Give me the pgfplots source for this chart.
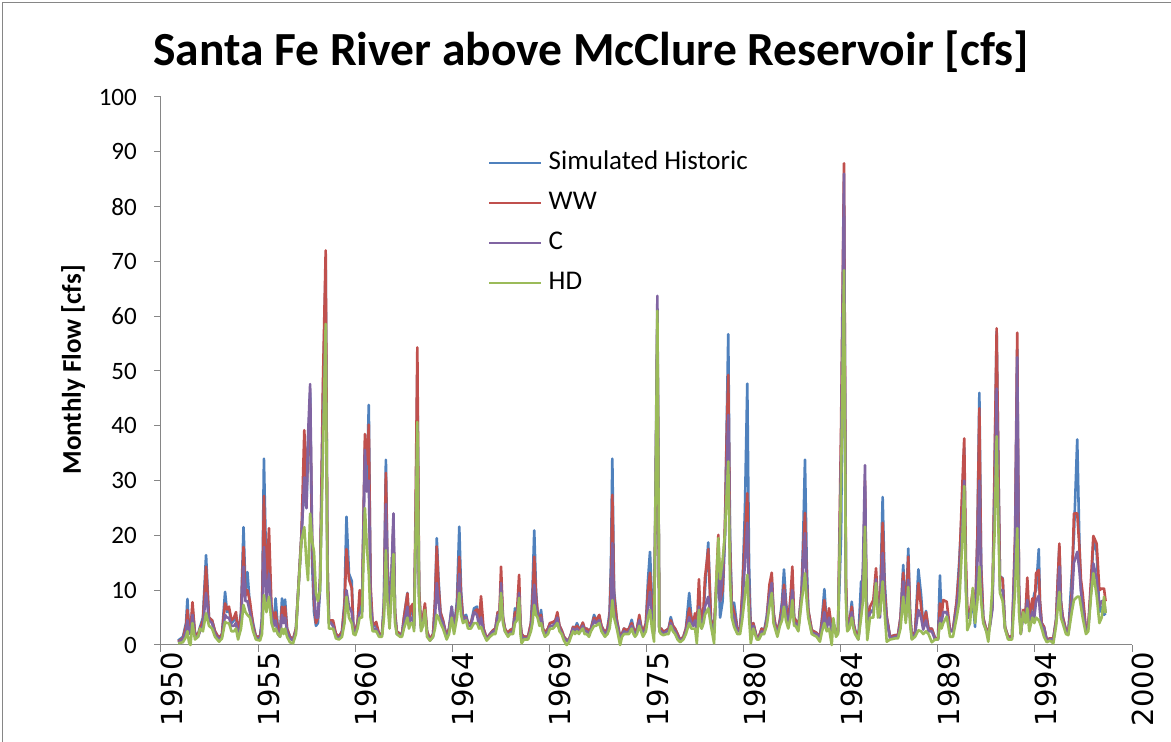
\documentclass[border=0pt]{standalone}
\usepackage{pgfplots}
\pgfplotsset{compat=1.18}
\usepackage{pgfplotstable}
\usepackage{fontspec}
\setmainfont{Carlito}
\newfontfamily\xfont{DejaVu Sans}
\definecolor{cSH}{HTML}{4F81BD}
\definecolor{cWW}{HTML}{C0504D}
\definecolor{cC}{HTML}{8064A2}
\definecolor{cHD}{HTML}{9BBB59}
\definecolor{axgray}{HTML}{868686}

\pgfplotstableread{
yr sh ww c hd
1950.88 0.8 0.6 0.5 0.3
1951.13 1.5 1.2 1.0 0.5
1951.29 4 3.5 2.5 1.5
1951.36 8.4 6.4 4.5 2.5
1951.44 3 3.5 2.5 0.5
1951.52 2 2.5 2 0
1951.62 7 7.8 5.5 4
1951.75 2 2 1.5 1
1951.91 2 2 1.5 1.5
1952.01 3.3 3 2.5 3
1952.16 5 4.5 3.5 2.5
1952.32 16.4 14.3 9.5 5.8
1952.47 5 5 4.5 3.5
1952.63 4.5 4.5 4 3
1952.78 2.5 2.5 2 1.5
1952.99 1.2 1.2 1 0.6
1953.14 2 2 1.5 1.2
1953.30 9.7 7.6 5.5 4.2
1953.40 6 6.5 5 4
1953.50 6.5 7 5 4
1953.63 4 4.5 3.5 2.5
1953.76 4.5 5 3.5 2.5
1953.86 5.5 6 4 3
1953.97 2 2 1.5 1
1954.12 6 5.5 4 3
1954.25 21.5 17.9 14.3 7.3
1954.35 10 9 8 6
1954.45 13.3 10 8 5.5
1954.58 7 8 6 5
1954.74 4 3.5 3 2.5
1954.89 1.5 1.5 1.2 1
1955.10 1.5 1.5 1.2 0.8
1955.20 5 4 3.5 2
1955.30 34 27.2 17.9 9.1
1955.43 12 10 8 6
1955.56 14 21.3 13 8.8
1955.69 6 7 5.5 4
1955.82 4 4.5 3.5 2.5
1955.90 8.5 6 4.5 3
1956.02 3 3 2 2
1956.13 2 2 1.5 1.5
1956.23 8.5 7 5.5 3
1956.31 5 4.5 4 2
1956.39 8.3 7 5 3
1956.49 3 3 2.5 1.5
1956.64 1.5 1.5 1.2 0.5
1956.80 1 1 0.8 0.3
1956.95 3 3 2.5 2
1957.05 9 9 8.7 8.7
1957.23 20 20 19 19
1957.38 30 39.2 30.6 21.5
1957.49 25 28 25 15
1957.57 35 36 38 11.8
1957.68 46 44 47.6 24
1957.78 15 18 20 19
1957.88 6 8 10 17
1957.98 3.5 4 5 9.5
1958.08 4 5 5 8
1958.19 10 12 12 10
1958.34 45 48 40 35
1958.48 69 72 58 58.6
1958.57 15 15 12 10
1958.65 4 4.5 4 3
1958.75 4.5 4.5 4 3
1958.86 3.5 4.5 3.5 3
1959.01 2 2 1.5 1.2
1959.17 1.5 1.5 1.2 1
1959.32 2.5 2.5 2 1.5
1959.45 8 7 5 4
1959.55 23.4 17.5 10 8.8
1959.68 13 12 7 5
1959.82 11.7 10.4 6 4
1959.91 3 3 2.5 2
1960.01 2.7 2.7 2.2 1.8
1960.12 4 4 3.5 3
1960.23 8 10 6 5
1960.35 6 7 6 5
1960.50 36 38.5 35.6 25
1960.60 30 33 28 18
1960.70 43.8 40.2 30 13
1960.79 10 11 8 5
1960.90 3.5 3.5 3 2.5
1961.08 3.5 4.2 3 2.5
1961.23 2 2 1.8 1.5
1961.38 2 2 1.8 1.5
1961.48 8 7 6 5
1961.58 33.8 31.4 25.7 17.3
1961.66 15 14 12 8
1961.77 8 7 7 3
1961.87 12 12 13 9
1961.97 22 22 24 16.6
1962.05 6 6 5 4
1962.14 2.5 2.5 2 2
1962.31 2 2 1.8 1.5
1962.41 2 2 1.8 1.5
1962.51 5 5 4 3
1962.69 9.5 9.4 7 5
1962.77 4 4.5 3.5 3
1962.87 6 7 5 4
1962.97 7 7.5 5 4
1963.03 3.5 3.5 3 2.5
1963.11 20 25 20 19
1963.20 50 54.3 40 40.7
1963.29 10 10 8 8
1963.39 3.5 3.5 3 2.5
1963.49 5 5 4 3.5
1963.59 7 7.6 6 6.4
1963.70 2.5 2.5 2 1.5
1963.85 1 1 0.8 0.8
1964.01 2 2 1.5 1.5
1964.11 8 8 5 3
1964.20 19.5 18 11.3 5.5
1964.29 12 11 8 5
1964.39 6 6 5 4
1964.52 4.5 4.5 4 3
1964.71 1.5 1.5 1.2 1
1964.83 3 3 2.5 2
1964.97 7 6 7 5
1965.09 3 3 2.5 2
1965.24 8 7 6 5
1965.36 21.6 16.1 13 9.5
1965.45 10 9 7 5.5
1965.55 5 5 4.5 4
1965.71 5.5 5 5 4.5
1965.81 4 4 3.5 3
1965.96 4 4 3.5 3
1966.12 6.7 6 6 4
1966.27 7 6.5 5.5 4
1966.38 4 4.5 3.5 3
1966.48 6 8.9 5 3.3
1966.61 3 3 2.5 2
1966.77 1.2 1.2 1 0.8
1966.94 2 2 1.8 1.5
1967.10 2.7 2.7 2.5 2
1967.22 3 3 2.5 2
1967.34 6 6 5.5 4
1967.43 5 6 5 4.5
1967.51 11 14.3 11.3 9.5
1967.61 5 5 4.5 4
1967.71 3 3 2.5 2.5
1967.87 2 2 1.8 1.5
1967.97 2.7 2.7 2.2 2
1968.13 3 3 2.5 2
1968.23 6.7 6 5 4
1968.33 5 6 5 4.5
1968.44 10 12.8 9.5 8.6
1968.51 4 4 3 2
1968.57 2 2 1.5 0.3
1968.69 1.5 1.5 1.2 1
1968.90 1.5 1.5 1.2 1
1969.05 4 4 3 2.5
1969.13 10 8 6 4
1969.22 20.9 16.1 11 7.3
1969.31 10 9 7 5.5
1969.39 6 6 5.5 5
1969.49 4.5 4.5 4 3.5
1969.57 6.4 5.5 5 4
1969.67 3 3 2.5 2.5
1969.77 2.2 2.2 2 1.5
1969.93 3 3 2.5 2
1970.03 4 4 3.5 3
1970.19 4 4.2 3.5 3
1970.31 4.5 4.5 4 3.5
1970.41 5.5 6 5 4
1970.52 3.5 3.5 3 2.5
1970.63 2.7 2.7 2.2 2
1970.75 1.5 1.5 1.2 0.8
1970.89 0.9 0.9 0.8 0
1971.01 1 1 0.9 0.5
1971.11 2 2 1.8 1.5
1971.22 3.3 3.3 3 2.5
1971.32 3 3 2.5 2
1971.42 4 3.5 3 2.5
1971.52 3 3 2.5 2
1971.60 3 3 2.5 2.5
1971.72 4 4.1 3.5 3
1971.81 3 3 2.5 2
1971.92 3 3 2.5 2
1972.04 2.5 2.5 2 1.5
1972.14 3 3 2.7 2.5
1972.30 5.5 5 4.5 3.5
1972.40 4.5 4.5 4 3.5
1972.57 5 5.5 4.5 4
1972.68 3.5 3.5 3 2.5
1972.86 2.2 2.2 2 1.5
1972.99 3 3 2.5 2
1973.10 6 5 4 3
1973.17 15 12 8 5
1973.24 34 27.4 18.6 8.2
1973.33 10 9 6 5
1973.47 4.6 4.6 4 3
1973.64 1.5 1.5 1.2 0
1973.74 2 2 1.8 1.5
1973.84 3 3 2.5 2
1973.98 2.7 2.7 2.2 2
1974.10 3 3 2.5 2
1974.24 4.6 4 3.5 3
1974.33 3 3 2.5 2
1974.41 2.2 2.2 2 1.5
1974.51 3 3 2.5 2
1974.63 5 5.5 4.5 3.5
1974.72 3.5 3.5 3 2.5
1974.82 2.2 2.2 2 1.5
1974.97 4 4 3 2.5
1975.08 12 10 7 5
1975.18 17 13.2 9.7 6.4
1975.28 8 7 5 3
1975.39 2.5 2.5 2 0.6
1975.48 30 30 35 32
1975.56 58 58 63.7 61
1975.66 2.7 2.7 2.5 2.5
1975.75 3 3 2.5 2
1975.87 2.4 2.4 2 1.8
1976.04 2.7 2.7 2.5 2
1976.14 3 3 2.5 2
1976.25 5.1 4.5 4 3.5
1976.36 3.5 3.5 3 2.5
1976.47 3 3 2.5 2
1976.60 2 2 1.5 1
1976.73 0.9 0.9 0.8 0.5
1976.90 1.5 1.5 1.2 1
1977.03 3 3 2.5 2
1977.20 9.5 6.7 5.1 4
1977.31 5 5 4 3
1977.41 4 4 3.5 3
1977.50 5 5.8 4.5 3
1977.59 3 3 2.5 0.3
1977.70 8 12 7 6.4
1977.78 5 5.5 4 3.5
1977.84 3.3 3.3 3 3
1977.94 6 7 5 4
1978.01 10 12.2 7 5.5
1978.18 18.7 17.5 8.8 6.7
1978.32 4.6 4.6 4 3.5
1978.48 3 3 2.5 0.3
1978.60 10 12 10 12
1978.70 15 20.1 15 19.5
1978.79 5 8 8 12
1978.92 8 10 13 15.5
1979.04 20 22 20 20.4
1979.13 40 38 32 28
1979.21 56.7 49.3 42 33.5
1979.30 20 18 15 12
1979.39 7.6 7.6 6 5
1979.51 7.7 6 5 3.3
1979.68 3 3 2.5 2
1979.82 2.7 2.7 2.5 2
1979.93 9 9.5 7 4.6
1980.07 25 20 15 9
1980.19 47.7 27.7 22.3 12.8
1980.28 15 10 8 5
1980.37 2.7 2.7 2.2 0.3
1980.50 4 4 3.5 3
1980.68 1.3 1.3 1.2 1
1980.79 1.5 1.5 1.2 1
1980.93 3 3 2.5 2
1981.05 2.4 2.4 2 2
1981.19 5.2 4.5 4 3.5
1981.33 10 11 9 7
1981.45 12 13.2 11.3 9.5
1981.54 6 6 5 4
1981.62 4 4 3.5 3
1981.74 2.2 2.2 2 1.5
1981.87 4.6 4.6 4 3.5
1981.98 8 7 6 4.5
1982.08 13.8 11 10 7
1982.18 8 7 6 4.5
1982.30 4 4 3.5 3
1982.42 8 9 7 5
1982.51 12 14.3 10 8.2
1982.60 5 5 4 3.5
1982.67 4.6 4.6 4 3.5
1982.82 3.3 3.3 3 2.5
1982.99 10 10 9 8
1983.07 20 17 15 10
1983.16 33.8 24.1 20.4 13.1
1983.25 15 12 10 8
1983.33 6.4 6.4 5.5 5
1983.51 2.7 2.7 2.2 2
1983.76 2.2 2.2 2 1.5
1983.93 1.5 1.5 1.2 0.6
1984.04 5 4.5 3.5 2.5
1984.16 10.2 8.2 6 4
1984.28 3.5 3.5 3 2.5
1984.40 6 6.7 5 3
1984.54 3 3 2.5 0
1984.62 4 4 4 4.9
1984.76 2.2 2.2 2 1.5
1984.86 2.5 2.5 2.2 2
1985.02 20 40 35 30
1985.17 80 87.9 86 68.4
1985.27 10 12 10 8
1985.34 3.3 3.3 3 2.5
1985.45 4 4 3.5 3
1985.57 7.9 7 6 5
1985.66 4 4 3.5 3
1985.74 2.7 2.7 2.2 2
1985.91 1.2 1.2 1 1
1986.05 11.6 7 6 5
1986.15 8 9 15 8
1986.25 28 30 32.8 21.6
1986.32 10 10 10 5
1986.37 4 4 3.5 0.9
1986.51 6.4 7 6 5
1986.68 6 8.2 6 5
1986.82 12 14 12 11.3
1986.92 7 7 6 5
1987.02 6 6 5 5.8
1987.16 27 22.3 16.8 11.6
1987.26 12 10 8 6
1987.37 5.2 5.2 4.5 0.6
1987.54 1.5 1.5 1.2 1
1987.80 1.8 1.8 1.5 1.2
1987.95 1.8 1.8 1.5 1.2
1988.08 5 5 4 3
1988.22 14.6 13.2 11.6 8.8
1988.35 5.2 5.2 4.5 4
1988.48 17.6 16.1 11.9 10.6
1988.57 6 6 5 4
1988.66 1.5 1.5 1.2 1
1988.83 2.4 2.4 2 1.5
1989.00 13.8 11.3 6.4 2.7
1989.14 9.1 7 5 2.5
1989.25 3.3 3.3 2.8 2
1989.39 6.2 6 4.5 2.5
1989.52 3 3 2.5 2
1989.69 3 3 2.5 0.5
1989.86 1.2 1.2 1 1
1990.01 1.2 1.2 1 1
1990.11 12.7 7.6 5 4
1990.19 5 5 4 3
1990.28 6 8.2 6 4
1990.46 6 7.9 6 5.2
1990.63 2.7 2.7 2.5 1.5
1990.78 2.7 2.7 2.5 1.5
1990.97 7.9 7.9 6.5 5
1991.11 15.6 14 11 8
1991.25 25 28 22 18
1991.36 36 37.7 30 29
1991.45 10 15 12 10
1991.52 6 6.4 5 2.7
1991.66 5 6 5 4
1991.80 8 10 9 10.4
1991.92 3.3 5 5 4
1992.04 20 20 15 8
1992.14 46 43.2 30 14.3
1992.23 15 14 10 8
1992.34 5 5 4.5 4
1992.48 3 3 2.7 2.7
1992.60 2.2 2.2 2 0.6
1992.69 4 4 3.5 4
1992.81 7 7 6.5 10.6
1992.92 30 32 25 20
1993.03 57.2 57.8 46.8 38.1
1993.13 30 30 25 20
1993.20 12.5 12.5 10 9.5
1993.34 12.2 12 10 8
1993.46 3.3 3.3 3 3
1993.62 1.5 1.5 1.2 1
1993.82 1.5 1.5 1.2 1
1993.98 15 20 18 10
1994.09 54 57 52.5 21.3
1994.18 10 10 9 6
1994.27 2.2 2.2 2 2
1994.40 6 6.4 5.5 6
1994.52 6 6 5 4
1994.61 10 12.3 8.2 6.7
1994.71 5 5 4 2.5
1994.87 7 8.5 6 5
1994.97 9.4 6 5 4
1995.06 10 13.1 8 5
1995.20 17.5 13.7 9 4.5
1995.26 8 8 6 4
1995.35 4 4 3.5 3
1995.47 3.3 3.3 3 1.5
1995.61 0.9 0.9 0.8 0.5
1995.78 1.2 1.2 1 0.8
1995.95 1.2 1.2 1 0.3
1996.09 4.6 4.6 4 3.5
1996.18 12 12 9 7
1996.26 18 18.5 14.3 9.7
1996.34 8 8 7 5
1996.43 5.2 5.2 4.5 4
1996.60 2.7 2.7 2.5 2
1996.72 2.2 2.2 2 1.8
1996.90 12.8 9.7 8 6
1997.01 20 24 15 8.2
1997.18 37.5 24 17 8.8
1997.29 18.9 17.9 13.7 8.8
1997.37 10 12 10 7
1997.46 8 9.4 7 5
1997.63 2.7 2.7 2.5 2
1997.75 3.5 3.5 3 2.5
1997.89 10 12 10 9
1998.01 19 19.9 14.9 13.1
1998.18 17 18.5 12 9
1998.32 6 10 7 4
1998.44 7 10.3 8 5
1998.56 5.5 10.3 8 8.8
1998.64 5.8 8 6 5.8
}\flowdata

\begin{document}
\begin{tikzpicture}
\useasboundingbox (0,0) rectangle (1171pt,742pt);
\fill[white] (0,0) rectangle (1171pt,742pt);
\draw[axgray, line width=1.2pt] (2.5pt,0) -- (2.5pt,739.5pt) -- (1171pt,739.5pt);
\begin{axis}[
  at={(161pt,97pt)}, anchor=south west,
  scale only axis, width=971pt, height=548pt,
  xmin=1950, xmax=2000, ymin=0, ymax=100,
  clip=false,
  axis lines*=left,
  axis line style={axgray, line width=1pt, -},
  tick style={axgray, line width=1pt},
  tick align=outside,
  major tick length=7pt,
  xtick={1950,1955,1960,1965,1970,1975,1980,1985,1990,1995,2000},
  xticklabels={1950,1955,1960,1964,1969,1975,1980,1984,1989,1994,2000},
  ytick={0,10,...,100},
  /pgf/number format/assume math mode=true,
  xticklabel style={font=\xfont\fontsize{29}{29}\selectfont, rotate=90, anchor=east, inner sep=0pt, yshift=-11pt},
  yticklabel style={font=\fontsize{25}{25}\selectfont, anchor=east, inner sep=0pt, xshift=-17pt},
  title={\textbf{Santa Fe River above McClure Reservoir [cfs]}},
  title style={at={(axis description cs:0.443,1.0474)}, anchor=base, font=\fontsize{47.5}{47.5}\selectfont, inner sep=0pt},
  ylabel={\textbf{Monthly Flow [cfs]}},
  every axis y label/.style={at={(axis description cs:-0.0906,0.502)}, rotate=90, anchor=center, font=\fontsize{27}{27}\selectfont},
  legend style={at={(axis description cs:0.3368,0.9042)}, anchor=north west, draw=none, fill=none, font=\fontsize{27}{27}\selectfont, row sep=13pt, column sep=6pt, inner sep=0pt, nodes={inner sep=0pt, text height=20pt, text depth=7pt}, cells={anchor=west}},
  legend image code/.code={\draw[#1, line width=2.5pt] (0pt,0pt) -- (52pt,0pt);},
  every axis plot/.append style={line width=2.6pt, line join=round, mark=none},
]
\addplot[cSH] table[x=yr, y=sh] {\flowdata};
\addplot[cWW] table[x=yr, y=ww] {\flowdata};
\addplot[cC] table[x=yr, y=c] {\flowdata};
\addplot[cHD] table[x=yr, y=hd] {\flowdata};
\legend{Simulated Historic, WW, C, HD}
\end{axis}
\end{tikzpicture}
\end{document}
